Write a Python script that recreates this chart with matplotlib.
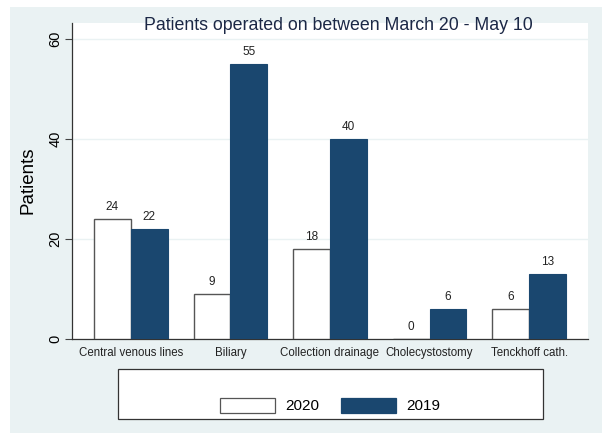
import matplotlib
matplotlib.use("Agg")
import matplotlib.pyplot as plt
from matplotlib.patches import Rectangle
import numpy as np

categories = ["Central venous lines", "Biliary", "Collection drainage", "Cholecystostomy", "Tenckhoff cath."]
series_names = ["2020", "2019"]
values_2020 = [24, 9, 18, 0, 6]
values_2019 = [22, 55, 40, 6, 13]
yticks = [0, 20, 40, 60]

title = "Patients operated on between March 20 - May 10"
ylabel = "Patients"

plt.rcParams['font.family'] = ['Liberation Sans', 'DejaVu Sans']

W, H = 602, 433
fig = plt.figure(figsize=(W / 100, H / 100), dpi=100)
fig.patch.set_facecolor("white")
bg = "#EAF2F3"
navy = "#1A476F"
fig.patches.append(Rectangle((10 / W, 0), 1 - 10 / W, 1 - 7 / H, transform=fig.transFigure,
                             facecolor=bg, edgecolor="none", zorder=-10))

left, right, top, bottom = 72, 588, 23, 339
ax = fig.add_axes([left / W, 1 - bottom / H, (right - left) / W, (bottom - top) / H])
ax.set_facecolor("white")

x = np.arange(len(categories))
bw = 0.37
b1 = ax.bar(x - bw / 2, values_2020, bw, color="white", edgecolor="#555555", linewidth=1.0, zorder=3)
b2 = ax.bar(x + bw / 2, values_2019, bw, color=navy, edgecolor=navy, linewidth=0.8, zorder=3)

for bars, vals in ((b1, values_2020), (b2, values_2019)):
    for b, v in zip(bars, vals):
        ax.annotate(str(v), (b.get_x() + b.get_width() / 2, v), xytext=(0, 4), textcoords="offset points",
                    ha="center", va="bottom", fontsize=8.5, color="#222222")

ax.set_xlim(-0.59, 4.59)
ax.set_ylim(0, 63.2)
ax.set_yticks(yticks)
ax.set_yticklabels([str(t) for t in yticks], rotation=90, va="center", fontsize=10.5)
ax.yaxis.grid(True, color=bg, linewidth=1.0, zorder=0)
ax.set_axisbelow(True)
ax.set_xticks(x)
ax.set_xticklabels(categories, fontsize=8.3, color="#222222")
ax.tick_params(axis="x", length=0, pad=6)
ax.tick_params(axis="y", length=5, width=0.8, color="#444444", pad=2)
for s in ("top", "right"):
    ax.spines[s].set_visible(False)
for s in ("left", "bottom"):
    ax.spines[s].set_color("#333333")
    ax.spines[s].set_linewidth(0.9)

fig.text(28 / W, 1 - 180 / H, ylabel, rotation=90, ha="center", va="center", fontsize=13.5)
fig.text(338 / W, 1 - 26 / H, title, ha="center", va="center", fontsize=12.8, color="#1c2846")

# legend
fig.patches.append(Rectangle((118 / W, 1 - 419 / H), 425 / W, 50 / H, transform=fig.transFigure,
                             facecolor="white", edgecolor="#333333", linewidth=0.9, zorder=5))
key_specs = [(220, "white", "#555555"), (341, navy, navy)]
for (kx, fc, ec), name in zip(key_specs, series_names):
    fig.patches.append(Rectangle((kx / W, 1 - 413 / H), 55 / W, 15 / H, transform=fig.transFigure,
                                 facecolor=fc, edgecolor=ec, linewidth=0.9, zorder=6))
    fig.text((kx + 65) / W, 1 - 405.5 / H, name, ha="left", va="center", fontsize=11, zorder=7)

fig.savefig("out.png", dpi=100, facecolor=fig.get_facecolor())
